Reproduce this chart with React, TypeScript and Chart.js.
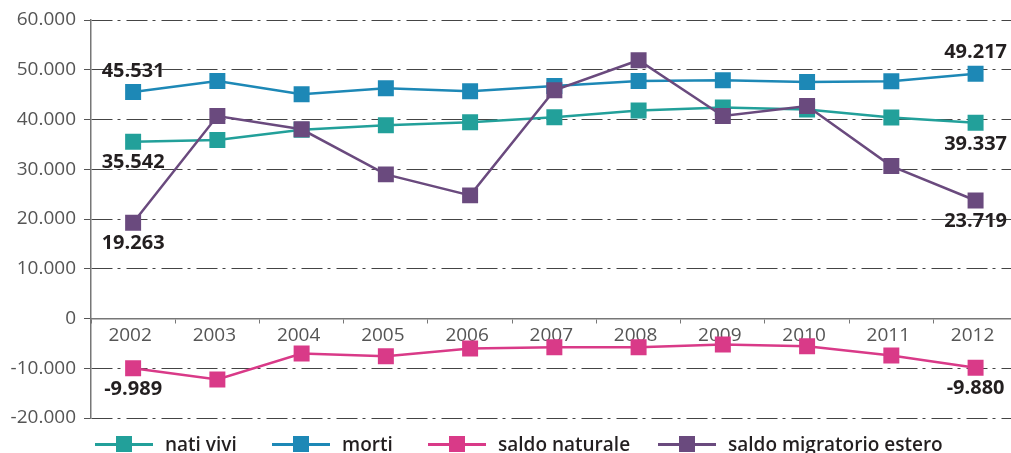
import React, { useEffect, useRef } from "react";
import { Chart, registerables } from "chart.js";

Chart.register(...registerables);

const years = ["2002", "2003", "2004", "2005", "2006", "2007", "2008", "2009", "2010", "2011", "2012"];
const natiVivi = [35542, 35870, 37950, 38830, 39440, 40440, 41790, 42390, 42000, 40380, 39337];
const morti = [45531, 47750, 45070, 46280, 45670, 46740, 47750, 47890, 47550, 47690, 49217];
const saldoNaturale = [-9989, -12270, -7040, -7580, -6040, -5770, -5770, -5230, -5570, -7440, -9880];
const saldoMigratorio = [19263, 40700, 38030, 28970, 24750, 45880, 51910, 40700, 42720, 30640, 23719];

const yMin = -20000;
const yMax = 60000;
const yStep = 10000;

const COLORS = {
  nati: "#22a09a",
  morti: "#1d88b6",
  naturale: "#d93a88",
  migratorio: "#6a4a7e",
};

const series = [
  { label: "nati vivi", data: natiVivi, color: COLORS.nati, labelDir: 1, order: 3 },
  { label: "morti", data: morti, color: COLORS.morti, labelDir: -1, order: 2 },
  { label: "saldo naturale", data: saldoNaturale, color: COLORS.naturale, labelDir: 1, order: 1 },
  { label: "saldo migratorio estero", data: saldoMigratorio, color: COLORS.migratorio, labelDir: 1, order: 0 },
];

// legend layout (left edge of each legend symbol, px)
const legendLefts = [95, 272, 428, 658];

function fmt(v: number): string {
  const s = Math.round(Math.abs(v)).toString().replace(/\B(?=(\d{3})+(?!\d))/g, ".");
  return (v < 0 ? "-" : "") + s;
}

const FONT = "'Open Sans', 'DejaVu Sans', sans-serif";

const endLabelsPlugin = {
  id: "endLabels",
  afterDatasetsDraw(chart: any) {
    const ctx = chart.ctx;
    ctx.save();
    ctx.font = `bold 20px ${FONT}`;
    ctx.fillStyle = "#231f20";
    ctx.textAlign = "center";
    ctx.textBaseline = "middle";
    chart.data.datasets.forEach((ds: any, i: number) => {
      const meta = chart.getDatasetMeta(i);
      const last = ds.data.length - 1;
      [0, last].forEach((idx) => {
        const el = meta.data[idx];
        if (!el) return;
        ctx.fillText(fmt(ds.data[idx]), el.x, el.y + ds.labelDir * 21);
      });
    });
    ctx.restore();
  },
};

export default function App() {
  const ref = useRef<HTMLCanvasElement | null>(null);

  useEffect(() => {
    if (!ref.current) return;
    const chart = new Chart(ref.current, {
      type: "line",
      data: {
        labels: years,
        datasets: series.map((s) => ({
          label: s.label,
          data: s.data,
          borderColor: s.color,
          backgroundColor: s.color,
          borderWidth: 2.5,
          pointStyle: "rect",
          pointRadius: 11.3,
          pointBorderWidth: 0,
          pointBackgroundColor: s.color,
          tension: 0,
          order: s.order,
          labelDir: s.labelDir,
        })) as any,
      },
      options: {
        animation: false,
        responsive: false,
        devicePixelRatio: 1,
        layout: { padding: { left: 0, top: 20, right: 3, bottom: 35 } },
        plugins: {
          legend: { display: false },
          tooltip: { enabled: false },
        },
        scales: {
          x: {
            type: "category",
            position: { y: 0 } as any,
            offset: true,
            grid: {
              drawOnChartArea: false,
              drawTicks: true,
              tickLength: 4,
              tickColor: "#777",
              offset: true,
            },
            border: { display: true, color: "#777", width: 1.5 },
            ticks: {
              color: "#555",
              font: { family: FONT, size: 19 },
              padding: 2,
              labelOffset: -3,
              maxRotation: 0,
              autoSkip: false,
            },
          },
          y: {
            min: yMin,
            max: yMax,
            afterFit: (s: any) => {
              s.width = 91;
            },
            grid: {
              color: (c: any) => (c.tick && c.tick.value === 0 ? "rgba(0,0,0,0)" : "#444"),
              lineWidth: 1,
              tickLength: 7,
              tickColor: "#555",
            },
            border: { display: true, color: "#777", width: 1.5, dash: [21, 5, 3, 6] },
            ticks: {
              stepSize: yStep,
              color: "#555",
              padding: 8,
              font: { family: FONT, size: 19 },
              callback: (v: any) => fmt(Number(v)),
            },
          },
        },
      },
      plugins: [endLabelsPlugin],
    });
    return () => chart.destroy();
  }, []);

  const legendItem = (s: (typeof series)[number], i: number) => (
    <div
      key={s.label}
      style={{
        position: "absolute",
        left: legendLefts[i],
        top: 0,
        height: 24,
        display: "flex",
        alignItems: "center",
      }}
    >
      <div style={{ position: "relative", width: 58, height: 18, marginRight: 12 }}>
        <div
          style={{
            position: "absolute",
            left: 0,
            right: 0,
            top: 8,
            height: 3,
            background: s.color,
          }}
        />
        <div
          style={{
            position: "absolute",
            left: 21,
            top: 1,
            width: 16,
            height: 16,
            background: s.color,
          }}
        />
      </div>
      <span style={{ fontFamily: FONT, fontSize: 19, fontWeight: 600, color: "#231f20", whiteSpace: "nowrap" }}>
        {s.label}
      </span>
    </div>
  );

  return (
    <div
      style={{
        position: "fixed",
        left: 0,
        top: 0,
        width: 1011,
        height: 453,
        overflow: "hidden",
        background: "#fff",
      }}
    >
      <canvas ref={ref} width={1029} height={453} style={{ display: "block", width: 1029, height: 453 }} />
      <div style={{ position: "absolute", left: 0, top: 432, width: 1011, height: 24 }}>
        {series.map(legendItem)}
      </div>
    </div>
  );
}
